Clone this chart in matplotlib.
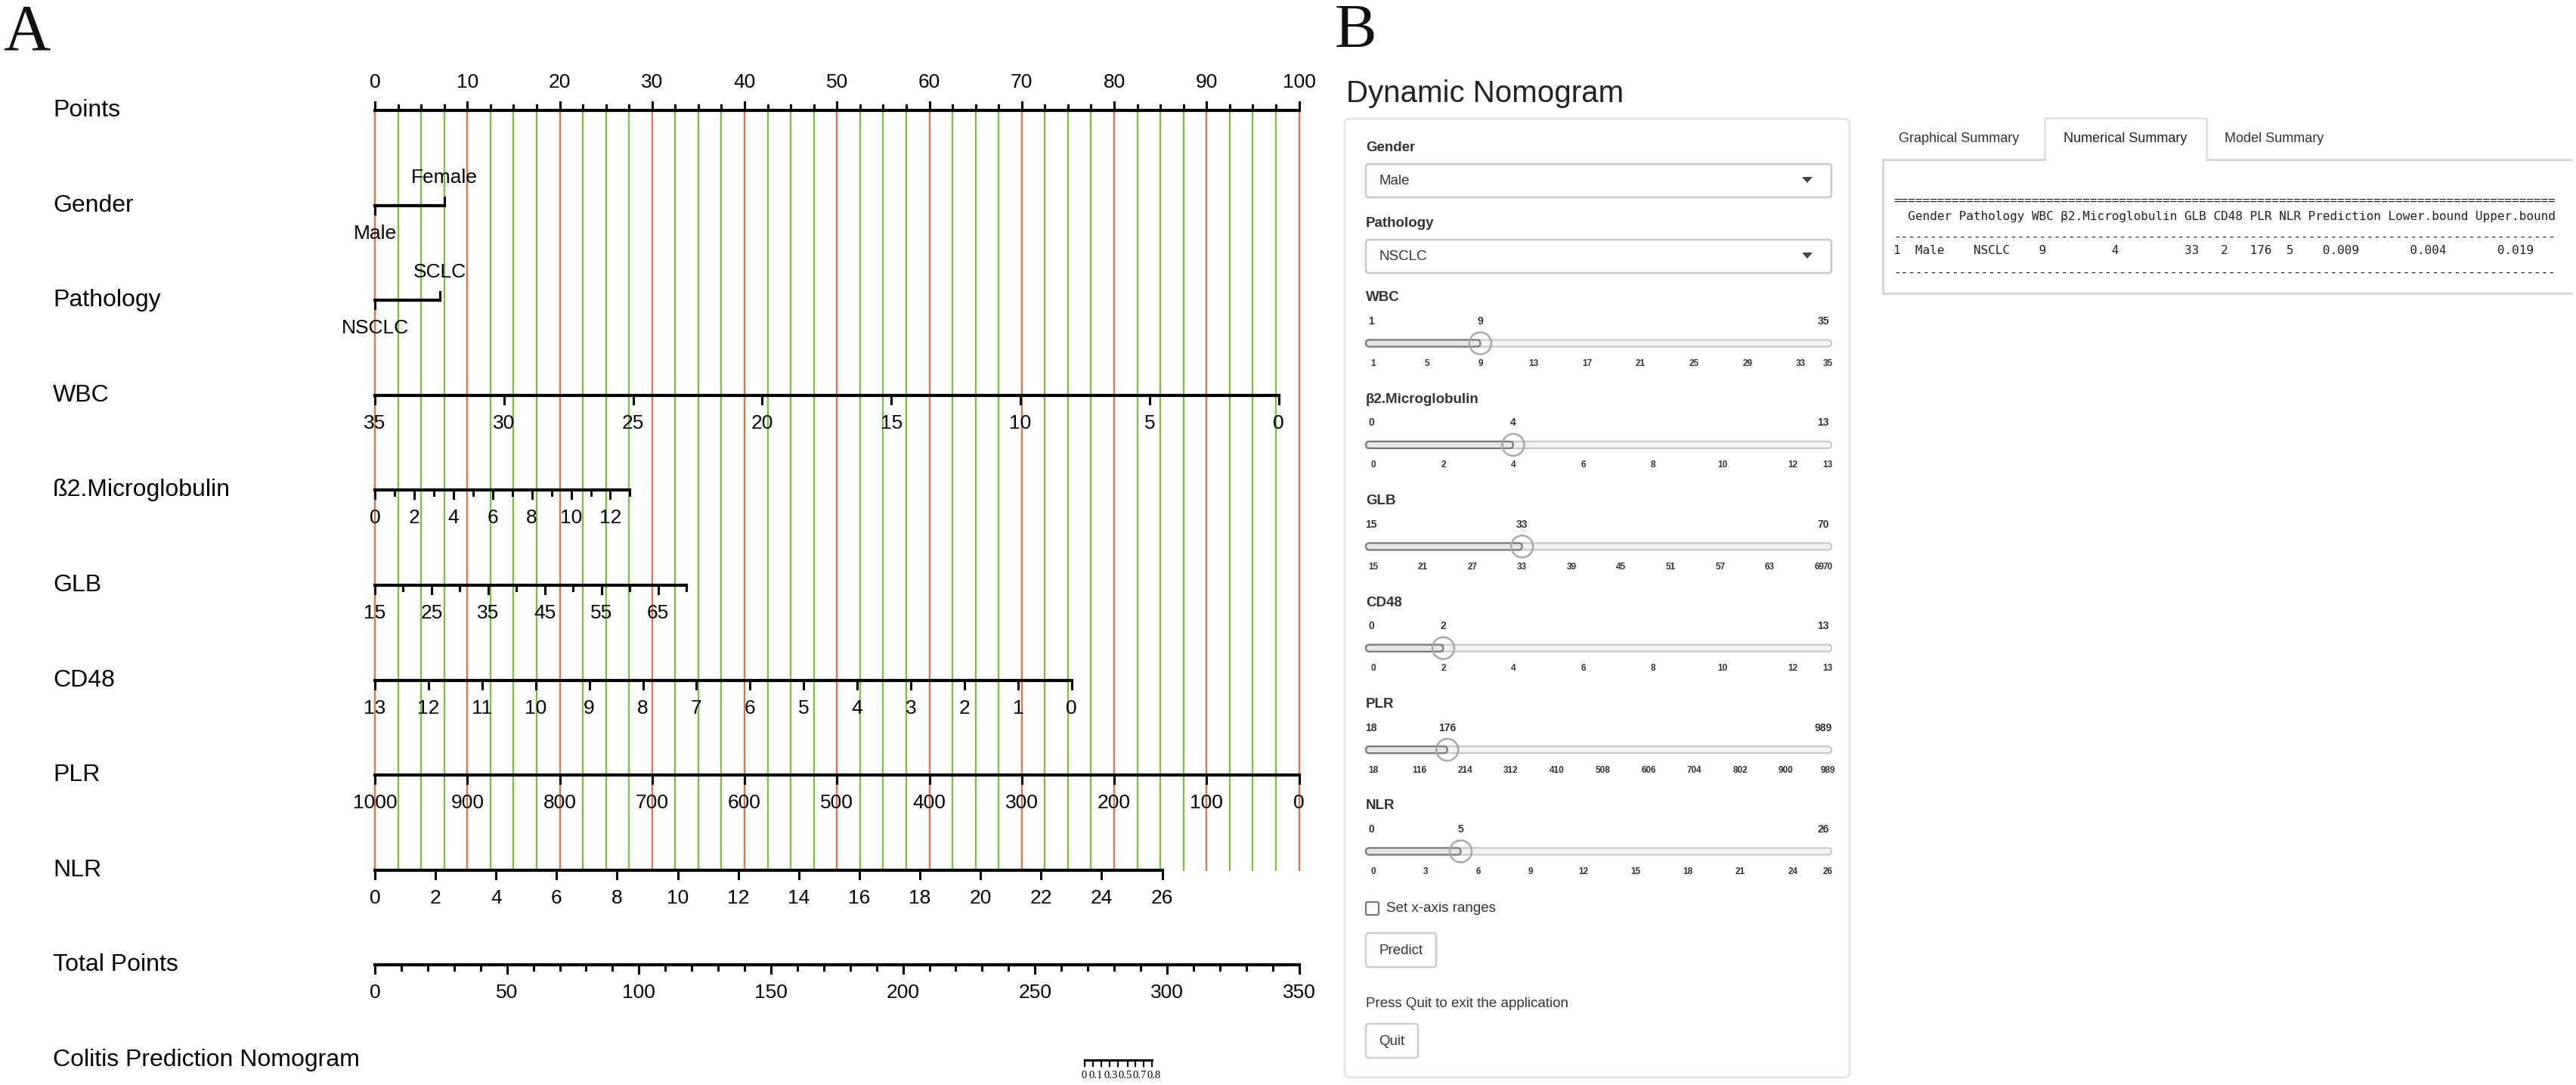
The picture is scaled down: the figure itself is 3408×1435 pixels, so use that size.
import numpy as np
import matplotlib
matplotlib.use('Agg')
import matplotlib.pyplot as plt
from matplotlib.patches import FancyBboxPatch, Circle, Polygon

plt.rcParams['font.family'] = ['Liberation Sans', 'DejaVu Sans']

# ---------------- data ----------------
row_names = ["Points", "Gender", "Pathology", "WBC", "ß2.Microglobulin", "GLB",
             "CD48", "PLR", "NLR", "Total Points", "Colitis Prediction Nomogram"]

gender_levels = ["Male", "Female"]
gender_pts = [0, 7.5]
path_levels = ["NSCLC", "SCLC"]
path_pts = [0, 7.0]

# continuous scales: ticks, labelled ticks, (value, points) anchors
wbc_ticks = [35, 30, 25, 20, 15, 10, 5, 0]
wbc_labels = wbc_ticks
wbc_anchor = (35, 0.0, 0, 97.8)

b2m_ticks = list(range(0, 14))
b2m_labels = [0, 2, 4, 6, 8, 10, 12]
b2m_anchor = (0, 0.0, 13, 27.6)

glb_ticks = list(range(15, 71, 5))
glb_labels = [15, 25, 35, 45, 55, 65]
glb_anchor = (15, 0.0, 70, 33.7)

cd48_ticks = list(range(13, -1, -1))
cd48_labels = cd48_ticks
cd48_anchor = (13, 0.0, 0, 75.4)

plr_ticks = list(range(1000, -1, -100))
plr_labels = plr_ticks
plr_anchor = (1000, 0.0, 0, 100.0)

nlr_ticks = list(range(0, 27, 2))
nlr_labels = nlr_ticks
nlr_anchor = (0, 0.0, 26, 85.2)

total_ticks = list(range(0, 351, 10))
total_labels = list(range(0, 351, 50))
total_anchor = (0, 0.0, 350, 100.0)

pred_probs = [0, 0.1, 0.2, 0.3, 0.4, 0.5, 0.6, 0.7, 0.8]
pred_total = [268.8, 272.0, 275.0, 278.4, 281.5, 285.1, 287.9, 291.2, 294.4]
pred_shown = [0, 0.1, 0.3, 0.5, 0.7, 0.8]
pred_label_total = [268.6, 273.1, 278.7, 284.2, 289.6, 295.2]   # where the crowded labels sit

# dynamic nomogram inputs
sel_names = ["Gender", "Pathology"]
sel_values = ["Male", "NSCLC"]
sl_names = ["WBC", "β2.Microglobulin", "GLB", "CD48", "PLR", "NLR"]
sl_min = [1, 0, 15, 0, 18, 0]
sl_max = [35, 13, 70, 13, 989, 26]
sl_val = [9, 4, 33, 2, 176, 5]
sl_ticks = [[1, 5, 9, 13, 17, 21, 25, 29, 33, 35],
            [0, 2, 4, 6, 8, 10, 12, 13],
            [15, 21, 27, 33, 39, 45, 51, 57, 63, 69, 70],
            [0, 2, 4, 6, 8, 10, 12, 13],
            [18, 116, 214, 312, 410, 508, 606, 704, 802, 900, 989],
            [0, 3, 6, 9, 12, 15, 18, 21, 24, 26]]

tab_names = ["Graphical Summary", "Numerical Summary", "Model Summary"]
tbl_header = ["Gender", "Pathology", "WBC", "β2.Microglobulin", "GLB", "CD48",
              "PLR", "NLR", "Prediction", "Lower.bound", "Upper.bound"]
tbl_row = ["Male", "NSCLC", "9", "4", "33", "2", "176", "5", "0.009", "0.004", "0.019"]

# ---------------- figure ----------------
W, H = 3408, 1435
fig = plt.figure(figsize=(W / 100, H / 100), dpi=100)

PX0, PXS = 496, 12.225          # pixel of 0 points, pixels per point
axA = fig.add_axes([0, 0, 1, 1])
axA.set_xlim(-PX0 / PXS, (W - PX0) / PXS)
axA.set_ylim(H, 0)
axA.axis('off')

axB = fig.add_axes([0, 0, 1, 1])
axB.set_xlim(0, W)
axB.set_ylim(H, 0)
axB.axis('off')
axB.patch.set_alpha(0)

RED, GREEN = '#E8704F', '#7DBE3C'
LW_AX, LW_TK = 3.0, 2.2
FS_ROW, FS_TK = 23, 19
SERIF = ['Liberation Serif', 'DejaVu Serif']
row_y = 146 + 125.6 * np.arange(len(row_names))
lab_x = (70 - PX0) / PXS


def to_pts(v, anchor):
    v0, p0, v1, p1 = anchor
    return p0 + (v - v0) * (p1 - p0) / (v1 - v0)


def fmt(v):
    return ('%g' % v)


def scale(y, ticks, labels, anchor, up=False):
    pts = [to_pts(t, anchor) for t in ticks]
    axA.plot([min(pts), max(pts)], [y, y], color='k', lw=LW_AX,
             solid_capstyle='projecting', zorder=5)
    s = -1 if up else 1
    for t, p in zip(ticks, pts):
        major = t in labels
        L = 11 if major else 7
        axA.plot([p, p], [y, y + s * L], color='k', lw=LW_TK, zorder=5)
        if major:
            axA.text(p, y + s * 37, fmt(t), ha='center', va='center', fontsize=FS_TK)


def cat_scale(y, names, pts):
    axA.plot([pts[0], pts[1]], [y, y], color='k', lw=LW_AX, zorder=5)
    axA.plot([pts[0]] * 2, [y, y + 11], color='k', lw=LW_TK, zorder=5)
    axA.plot([pts[1]] * 2, [y, y - 11], color='k', lw=LW_TK, zorder=5)
    axA.text(pts[0], y + 37, names[0], ha='center', va='center', fontsize=FS_TK)
    axA.text(pts[1], y - 37, names[1], ha='center', va='center', fontsize=FS_TK)


# reference verticals
for p in np.arange(0, 100.01, 2.5):
    c = RED if abs(p % 10) < 1e-9 else GREEN
    axA.plot([p, p], [row_y[0] + 2, row_y[8]], color=c, lw=1.7, zorder=2)

for name, y in zip(row_names, row_y):
    axA.text(lab_x, y, name, ha='left', va='center', fontsize=FS_ROW)

scale(row_y[0], list(np.arange(0, 100.01, 2.5)), list(range(0, 101, 10)),
      (0, 0.0, 100, 100.0), up=True)
cat_scale(row_y[1], gender_levels, gender_pts)
cat_scale(row_y[2], path_levels, path_pts)
scale(row_y[3], wbc_ticks, wbc_labels, wbc_anchor)
scale(row_y[4], b2m_ticks, b2m_labels, b2m_anchor)
scale(row_y[5], glb_ticks, glb_labels, glb_anchor)
scale(row_y[6], cd48_ticks, cd48_labels, cd48_anchor)
scale(row_y[7], plr_ticks, plr_labels, plr_anchor)
scale(row_y[8], nlr_ticks, nlr_labels, nlr_anchor)
scale(row_y[9], total_ticks, total_labels, total_anchor)

# prediction axis (small, serif)
yp = row_y[10]
pp = [to_pts(t, total_anchor) for t in pred_total]
axA.plot([pp[0], pp[-1]], [yp, yp], color='k', lw=2.2, zorder=5)
for pr, p in zip(pred_probs, pp):
    axA.plot([p, p], [yp, yp + 8], color='k', lw=1.6, zorder=5)
for pr, t in zip(pred_shown, pred_label_total):
    axA.text(to_pts(t, total_anchor), yp + 20, fmt(pr), ha='center', va='center',
             fontsize=10.5, family=SERIF)

axB.text(4, 66, "A", ha='left', va='baseline', fontsize=62, family=SERIF, color='#111111')
axB.text(1766, 62, "B", ha='left', va='baseline', fontsize=60, family=SERIF, color='#111111')

# ---------------- panel B ----------------
TXT = '#333333'


def rbox(x0, y0, x1, y1, r=5, ec='#cccccc', fc='white', lw=1.5, z=3):
    axB.add_patch(FancyBboxPatch((x0, y0), x1 - x0, y1 - y0,
                                 boxstyle="round,pad=0,rounding_size=%g" % r,
                                 ec=ec, fc=fc, lw=lw, zorder=z))


axB.text(1781, 135, "Dynamic Nomogram", ha='left', va='baseline', fontsize=29, color='#222222')
rbox(1779, 157, 2447, 1425, r=7, ec='#e3e3e3', fc='white', lw=2, z=1)

WX0, WX1 = 1807, 2423
for i, (nm, val) in enumerate(zip(sel_names, sel_values)):
    ly = 196 + i * 100
    axB.text(WX0, ly, nm, ha='left', va='center', fontsize=13.5, weight='bold', color=TXT)
    rbox(WX0, ly + 21, WX1, ly + 65, r=4, ec='#c8c8c8', lw=1.8)
    axB.text(1824, ly + 43, val, ha='left', va='center', fontsize=13.5, color=TXT)
    axB.add_patch(Polygon([[2384, ly + 38], [2398, ly + 38], [2391, ly + 46]],
                          closed=True, fc='#444444', ec='none', zorder=4))

TK0, TK1 = 1817, 2418
for i, nm in enumerate(sl_names):
    ly = 394 + i * 134.4
    lo, hi, v = sl_min[i], sl_max[i], sl_val[i]
    tx = lambda u: TK0 + (u - lo) / (hi - lo) * (TK1 - TK0)
    axB.text(WX0, ly, nm, ha='left', va='center', fontsize=13.5, weight='bold', color=TXT)
    axB.text(TK0 - 3, ly + 31, fmt(lo), ha='center', va='center', fontsize=10, weight='bold', color=TXT)
    axB.text(TK1 - 6, ly + 31, fmt(hi), ha='center', va='center', fontsize=10, weight='bold', color=TXT)
    hx = tx(v)
    axB.text(hx, ly + 31, fmt(v), ha='center', va='center', fontsize=10, weight='bold', color=TXT)
    ty = ly + 60
    rbox(WX0, ty - 4.5, WX1, ty + 4.5, r=4.5, ec='#c8c8c8', fc='#f4f4f4', lw=1.6, z=3)
    rbox(WX0, ty - 4.5, hx, ty + 4.5, r=4.5, ec='#7a7a7a', fc='#e6e6e6', lw=1.6, z=4)
    axB.add_patch(Circle((hx, ty), 14.5, fc='none', ec='#a8a8a8', lw=1.8, zorder=5))
    for t in sl_ticks[i]:
        axB.text(tx(t), ly + 87, fmt(t), ha='center', va='center', fontsize=8.5,
                 weight='bold', color=TXT)

# checkbox, buttons
rbox(1807, 1193, 1824, 1210, r=2, ec='#777777', lw=1.6)
axB.text(1834, 1201, "Set x-axis ranges", ha='left', va='center', fontsize=13.5, color=TXT)
rbox(1807, 1234, 1900, 1279, r=4, ec='#cccccc', lw=1.8)
axB.text(1853.5, 1257, "Predict", ha='center', va='center', fontsize=13.5, color=TXT)
axB.text(1807, 1327, "Press Quit to exit the application", ha='left', va='center',
         fontsize=13.5, color=TXT)
rbox(1807, 1354, 1876, 1399, r=4, ec='#cccccc', lw=1.8)
axB.text(1841.5, 1377, "Quit", ha='center', va='center', fontsize=13.5, color=TXT)

# tabs
TAB_L, TAB_R = 2705, 2919
LINE = '#d4d4d4'
axB.plot([2491, TAB_L], [211, 211], color=LINE, lw=2, zorder=3)
axB.plot([TAB_R, 3402], [211, 211], color=LINE, lw=2, zorder=3)
axB.plot([2491, 3402], [388, 388], color=LINE, lw=2, zorder=3)
axB.plot([2491, 2491], [211, 388], color=LINE, lw=2, zorder=3)
axB.plot([TAB_L, TAB_L, TAB_R, TAB_R], [211, 156, 156, 211], color='#dddddd', lw=1.8, zorder=3)
axB.text(2512, 183, tab_names[0], ha='left', va='center', fontsize=13, color=TXT)
axB.text((TAB_L + TAB_R) / 2, 183, tab_names[1], ha='center', va='center', fontsize=13, color='#222222')
axB.text(2943, 183, tab_names[2], ha='left', va='center', fontsize=13, color=TXT)

# stargazer-like numeric table
hdr = "  " + " ".join(tbl_header)
starts = []
pos = 2
for h in tbl_header:
    starts.append(pos)
    pos += len(h) + 1
row = list(" " * len(hdr))
row[0] = "1"
for h, s0, v in zip(tbl_header, starts, tbl_row):
    st = s0 + (len(h) - len(v)) // 2
    row[st:st + len(v)] = list(v)
row = "".join(row)
MONO = dict(family=['DejaVu Sans Mono'], fontsize=11.56, color='#222222', ha='left', va='center')
axB.text(2505, 265, "=" * len(hdr), **MONO)
axB.text(2505, 287, hdr, **MONO)
axB.text(2505, 313, "-" * len(hdr), **MONO)
axB.text(2505, 332, row, **MONO)
axB.text(2505, 360, "-" * len(hdr), **MONO)

fig.savefig("out.png", dpi=100, facecolor='white')
